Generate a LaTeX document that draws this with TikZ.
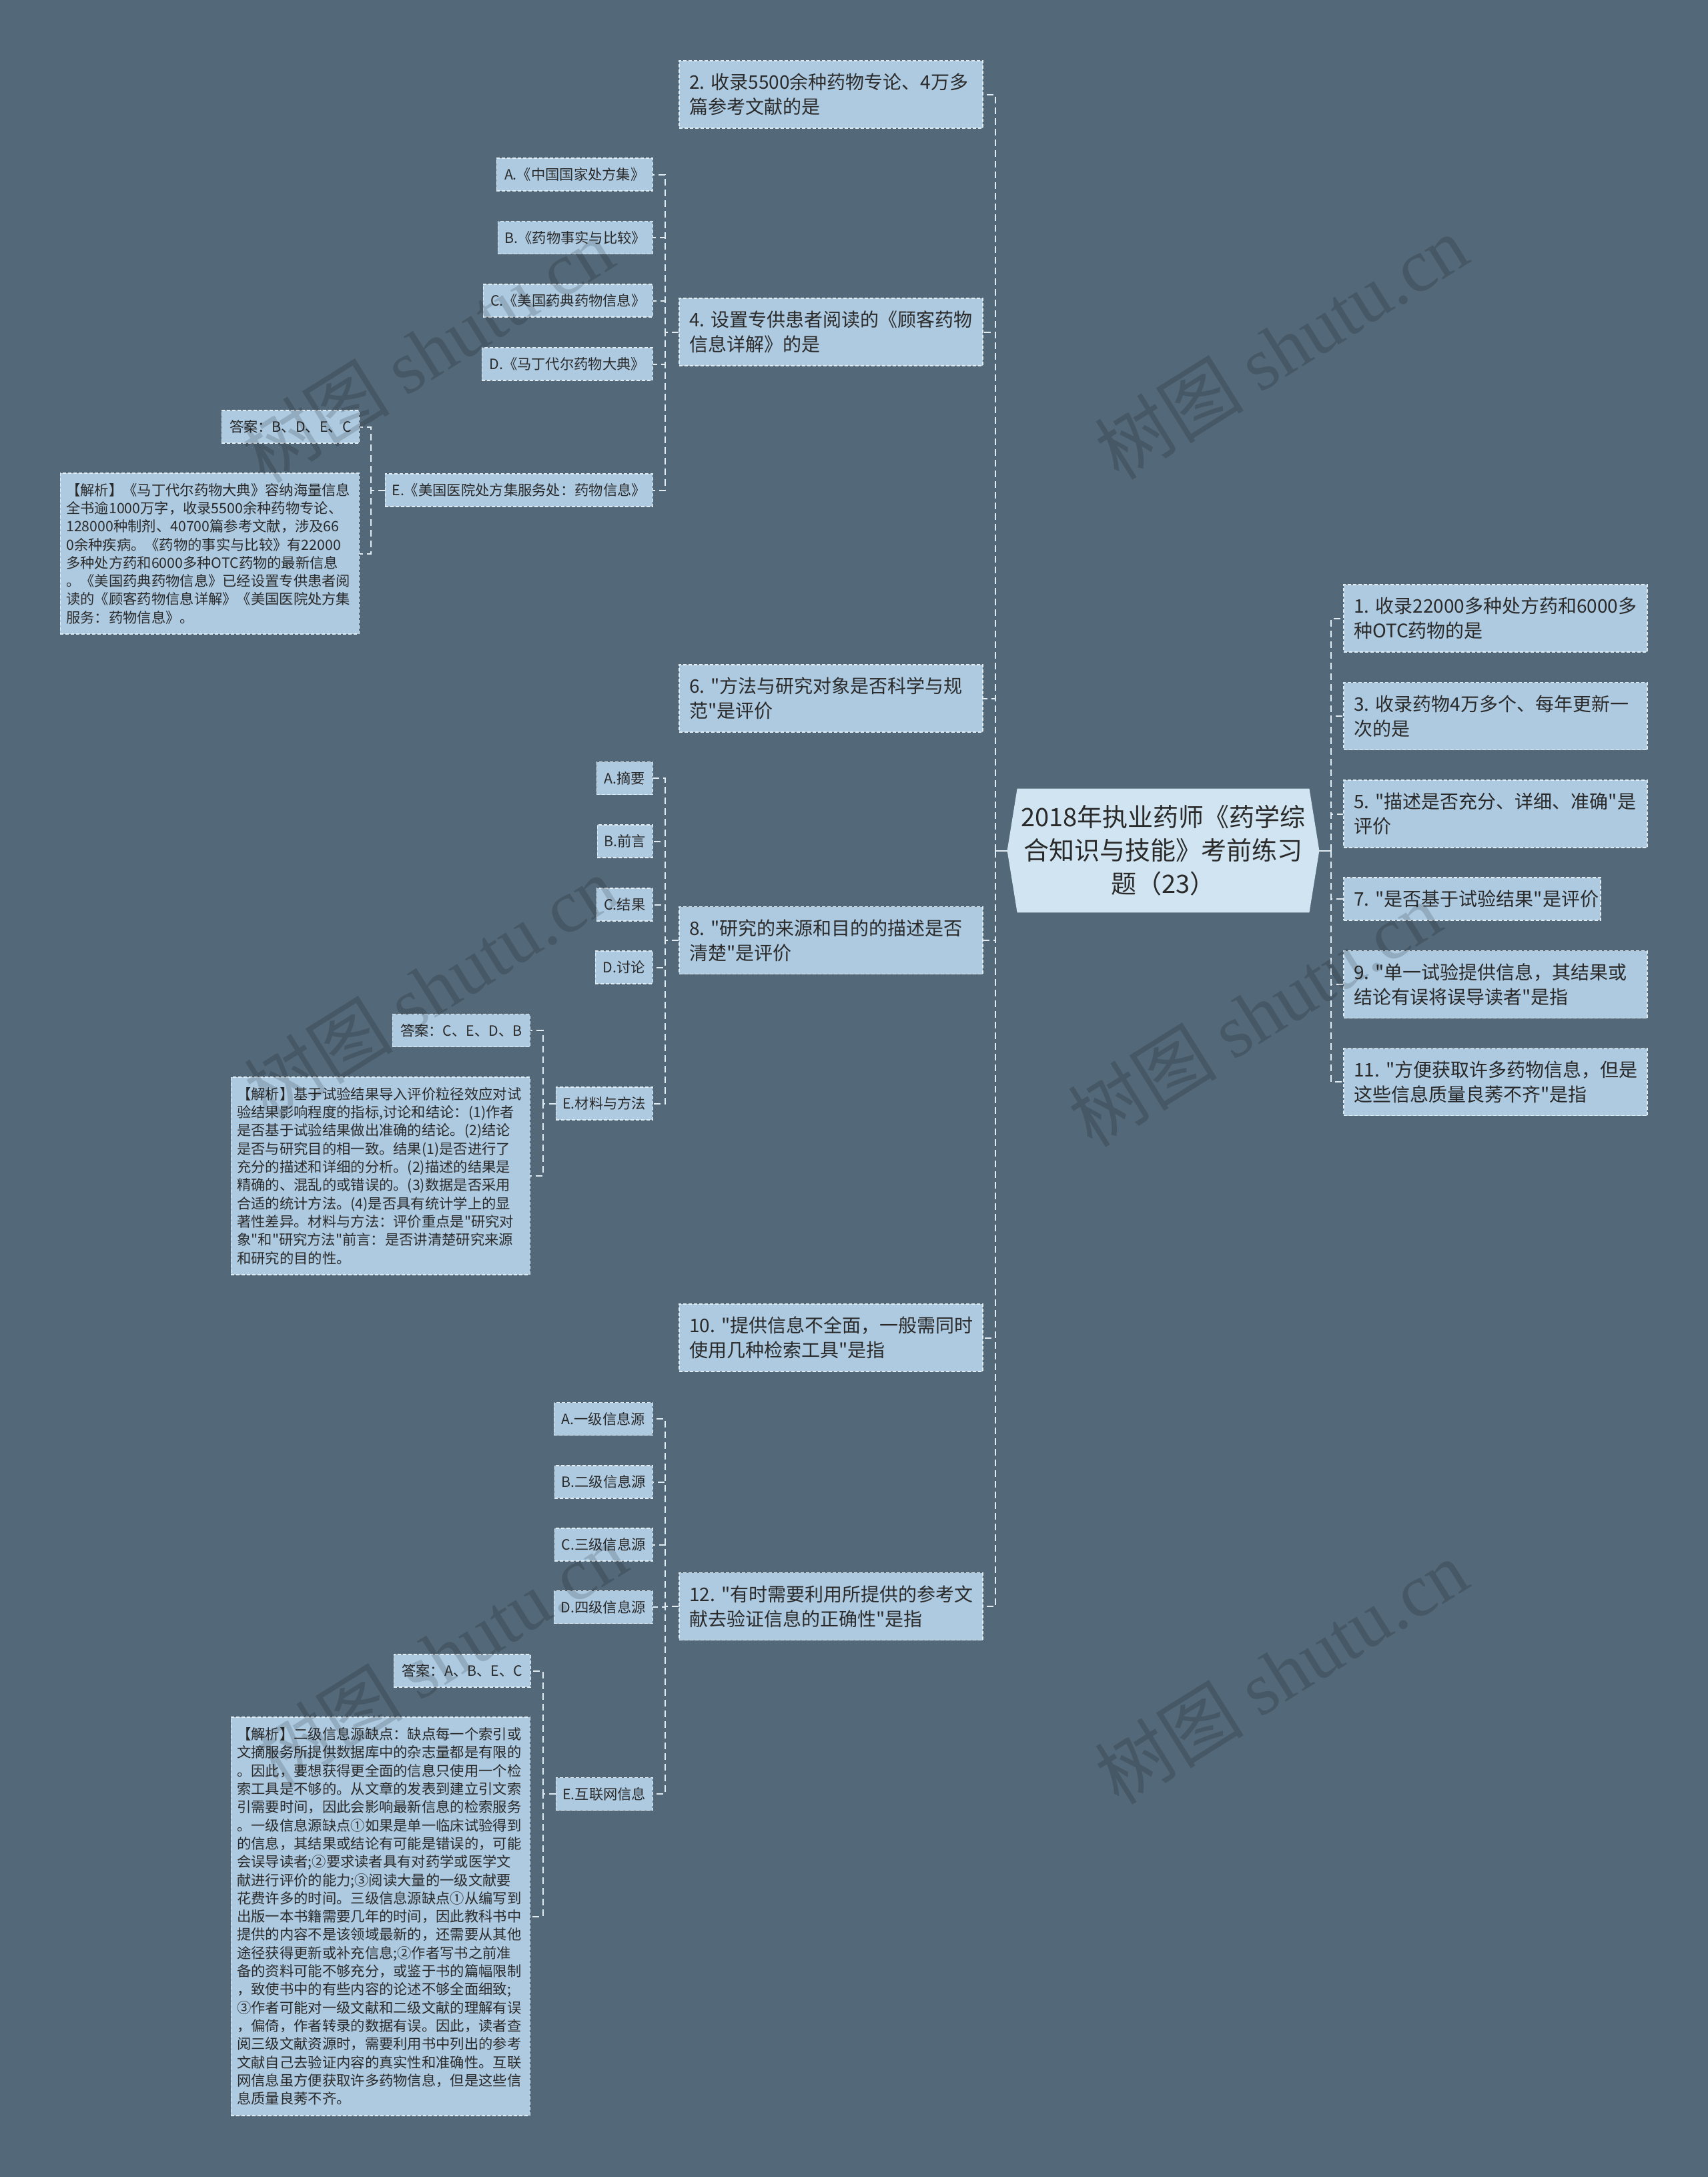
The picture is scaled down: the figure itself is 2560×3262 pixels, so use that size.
\documentclass[tikz,border=0pt]{standalone}
\usepackage{fontspec}
\setmainfont{Noto Sans CJK SC}[Ligatures=TeXOff]
\newfontfamily\wmlatin{Liberation Serif}
\usetikzlibrary{backgrounds,calc}
\definecolor{bgc}{HTML}{536878}
\definecolor{nodefill}{HTML}{ADCAE1}
\definecolor{rootfill}{HTML}{D0E5F1}
\definecolor{linec}{HTML}{E2ECF3}
\definecolor{txtc}{HTML}{2A2A2A}
\tikzset{
  nbox/.style={draw=linec, fill=nodefill, line width=0.7pt, dash pattern=on 2.5pt off 1.5pt, text=txtc, inner ysep=0pt},
  mainbox/.style={nbox, text width=212.5pt, inner xsep=7.5pt, minimum height=50.5pt, align=left, font=\fontsize{14pt}{18.5pt}\selectfont},
  smallbox/.style={nbox, inner xsep=0pt, minimum height=24.5pt, anchor=east, font=\fontsize{10.65pt}{13.65pt}\selectfont},
  expbox/.style={nbox, text width=215pt, inner xsep=4.5pt, align=left, anchor=east, font=\fontsize{10.65pt}{13.65pt}\selectfont},
  rootbox/.style={inner sep=0pt, minimum width=218.5pt, minimum height=92.5pt, align=center, text=txtc, font=\fontsize{19pt}{25pt}\selectfont},
  conn/.style={draw=linec, line width=1pt, dash pattern=on 5pt off 3pt},
  rootconn/.style={draw=linec, line width=1pt},
  wm/.style={text=black, opacity=0.15, rotate=32, font=\fontsize{56pt}{60pt}\selectfont},
}
\begin{document}
\begin{tikzpicture}[x=0.5pt,y=-0.5pt]
\useasboundingbox (0,0) rectangle (2560,3262);

% root
\node[rootbox] (root) at (1743.5,1274.5) {2018年执业药师《药学综\\合知识与技能》考前练习\\题（23）};
\coordinate (rootL) at ($(root.west)+(-15,0)$);
\coordinate (rootR) at ($(root.east)+(15,0)$);

% left main nodes
\node[mainbox] (n2) at (1245.5,141.5) {2.~收录5500余种药物专论、4万多\\篇参考文献的是};
\node[mainbox] (n4) at (1245.5,497.5) {4.~设置专供患者阅读的《顾客药物\\信息详解》的是};
\node[mainbox] (n6) at (1245.5,1046.5) {6.~"方法与研究对象是否科学与规\\范"是评价};
\node[mainbox] (n8) at (1245.5,1409) {8.~"研究的来源和目的的描述是否\\清楚"是评价};
\node[mainbox] (n10) at (1245.5,2004.5) {10.~"提供信息不全面，一般需同时\\使用几种检索工具"是指};
\node[mainbox] (n12) at (1245.5,2407) {12.~"有时需要利用所提供的参考文\\献去验证信息的正确性"是指};

% right main nodes
\node[mainbox] (n1) at (2241.5,926.5) {1.~收录22000多种处方药和6000多\\种OTC药物的是};
\node[mainbox] (n3) at (2241.5,1073) {3.~收录药物4万多个、每年更新一\\次的是};
\node[mainbox] (n5) at (2241.5,1219.5) {5.~"描述是否充分、详细、准确"是\\评价};
\node[mainbox, text width=177.5pt, minimum height=32pt] (n7) at (2206.5,1347) {7.~"是否基于试验结果"是评价};
\node[mainbox] (n9) at (2241.5,1475) {9.~"单一试验提供信息，其结果或\\结论有误将误导读者"是指};
\node[mainbox] (n11) at (2241.5,1621) {11.~"方便获取许多药物信息，但是\\这些信息质量良莠不齐"是指};

% children of 4
\node[smallbox, minimum width=117pt] (o4a) at (979,261.5) {A.《中国国家处方集》};
\node[smallbox, minimum width=116pt] (o4b) at (979,356) {B.《药物事实与比较》};
\node[smallbox, minimum width=127pt] (o4c) at (979,450.5) {C.《美国药典药物信息》};
\node[smallbox, minimum width=128pt] (o4d) at (979,545.5) {D.《马丁代尔药物大典》};
\node[smallbox, minimum width=200.5pt] (o4e) at (979,734.5) {E.《美国医院处方集服务处：药物信息》};
\node[smallbox, minimum width=103pt] (ans4) at (539,639.5) {答案：B、D、E、C};
\node[expbox, minimum height=120.5pt] (exp4) at (539,829.5) {【解析】《马丁代尔药物大典》容纳海量信息\\全书逾1000万字，收录5500余种药物专论、\\128000种制剂、40700篇参考文献，涉及66\\0余种疾病。《药物的事实与比较》有22000\\多种处方药和6000多种OTC药物的最新信息\\。《美国药典药物信息》已经设置专供患者阅\\读的《顾客药物信息详解》《美国医院处方集\\服务：药物信息》。};

% children of 8
\node[smallbox, minimum width=42pt] (o8a) at (979,1166) {A.摘要};
\node[smallbox, minimum width=41.5pt] (o8b) at (979,1260.5) {B.前言};
\node[smallbox, minimum width=42pt] (o8c) at (979,1355.5) {C.结果};
\node[smallbox, minimum width=43pt] (o8d) at (979,1449.5) {D.讨论};
\node[smallbox, minimum width=72.5pt] (o8e) at (979,1653.5) {E.材料与方法};
\node[smallbox, minimum width=103pt] (ans8) at (795,1544) {答案：C、E、D、B};
\node[expbox, minimum height=148pt] (exp8) at (795,1762) {【解析】基于试验结果导入评价粒径效应对试\\验结果影响程度的指标,讨论和结论：(1)作者\\是否基于试验结果做出准确的结论。(2)结论\\是否与研究目的相一致。结果(1)是否进行了\\充分的描述和详细的分析。(2)描述的结果是\\精确的、混乱的或错误的。(3)数据是否采用\\合适的统计方法。(4)是否具有统计学上的显\\著性差异。材料与方法：评价重点是"研究对\\象"和"研究方法"前言：是否讲清楚研究来源\\和研究的目的性。};

% children of 12
\node[smallbox, minimum width=74pt] (o12a) at (979,2126) {A.一级信息源};
\node[smallbox, minimum width=73.5pt] (o12b) at (979,2220.5) {B.二级信息源};
\node[smallbox, minimum width=73.5pt] (o12c) at (979,2314.5) {C.三级信息源};
\node[smallbox, minimum width=74pt] (o12d) at (979,2408) {D.四级信息源};
\node[smallbox, minimum width=72.5pt] (o12e) at (979,2688) {E.互联网信息};
\node[smallbox, minimum width=102.5pt] (ans12) at (796,2503.5) {答案：A、B、E、C};
\node[expbox, minimum height=298.5pt] (exp12) at (795,2871.5) {【解析】二级信息源缺点：缺点每一个索引或\\文摘服务所提供数据库中的杂志量都是有限的\\。因此，要想获得更全面的信息只使用一个检\\索工具是不够的。从文章的发表到建立引文索\\引需要时间，因此会影响最新信息的检索服务\\。一级信息源缺点①如果是单一临床试验得到\\的信息，其结果或结论有可能是错误的，可能\\会误导读者;②要求读者具有对药学或医学文\\献进行评价的能力;③阅读大量的一级文献要\\花费许多的时间。三级信息源缺点①从编写到\\出版一本书籍需要几年的时间，因此教科书中\\提供的内容不是该领域最新的，还需要从其他\\途径获得更新或补充信息;②作者写书之前准\\备的资料可能不够充分，或鉴于书的篇幅限制\\，致使书中的有些内容的论述不够全面细致;\\③作者可能对一级文献和二级文献的理解有误\\，偏倚，作者转录的数据有误。因此，读者查\\阅三级文献资源时，需要利用书中列出的参考\\文献自己去验证内容的真实性和准确性。互联\\网信息虽方便获取许多药物信息，但是这些信\\息质量良莠不齐。};

% background and root shape
\begin{scope}[on background layer]
\fill[bgc] (0,0) rectangle (2560,3262);
\fill[rootfill] (root.north west) -- (root.north east) -- (rootR) -- (root.south east) -- (root.south west) -- (rootL) -- cycle;
\end{scope}

% main connectors
\coordinate (lsp) at (1492,1274.5);
\coordinate (rsp) at (1995,1274.5);
\draw[rootconn] (rootL) -- (lsp);
\draw[rootconn] (rootR) -- (rsp);
\foreach \n in {n2,n4,n6,n8,n10,n12} \draw[conn] (lsp) |- (\n.east);
\foreach \n in {n1,n3,n5,n7,n9,n11} \draw[conn] (rsp) |- (\n.west);

% branch 4
\coordinate (s4) at ($(n4.west)+(-20,0)$);
\foreach \n in {o4a,o4b,o4c,o4d,o4e} \draw[conn] (n4.west) -- (s4) |- (\n.east);
\coordinate (s4e) at ($(o4e.west)+(-21,0)$);
\foreach \n in {ans4,exp4} \draw[conn] (o4e.west) -- (s4e) |- (\n.east);

% branch 8
\coordinate (s8) at ($(n8.west)+(-20,0)$);
\foreach \n in {o8a,o8b,o8c,o8d,o8e} \draw[conn] (n8.west) -- (s8) |- (\n.east);
\coordinate (s8e) at ($(o8e.west)+(-19,0)$);
\foreach \n in {ans8,exp8} \draw[conn] (o8e.west) -- (s8e) |- (\n.east);

% branch 12
\coordinate (s12) at ($(n12.west)+(-20,0)$);
\foreach \n in {o12a,o12b,o12c,o12d,o12e} \draw[conn] (n12.west) -- (s12) |- (\n.east);
\coordinate (s12e) at ($(o12e.west)+(-19,0)$);
\foreach \n in {ans12,exp12} \draw[conn] (o12e.west) -- (s12e) |- (\n.east);

% watermarks
\node[wm] (wm1) at (640,525) {树图 {\wmlatin shutu.cn}};
\node[wm] (wm2) at (1920,520) {树图 {\wmlatin shutu.cn}};
\node[wm] (wm3) at (645,1480) {树图 {\wmlatin shutu.cn}};
\node[wm] (wm4) at (1880,1520) {树图 {\wmlatin shutu.cn}};
\node[wm] (wm5) at (660,2480) {树图 {\wmlatin shutu.cn}};
\node[wm] (wm6) at (1920,2505) {树图 {\wmlatin shutu.cn}};
\end{tikzpicture}
\end{document}
